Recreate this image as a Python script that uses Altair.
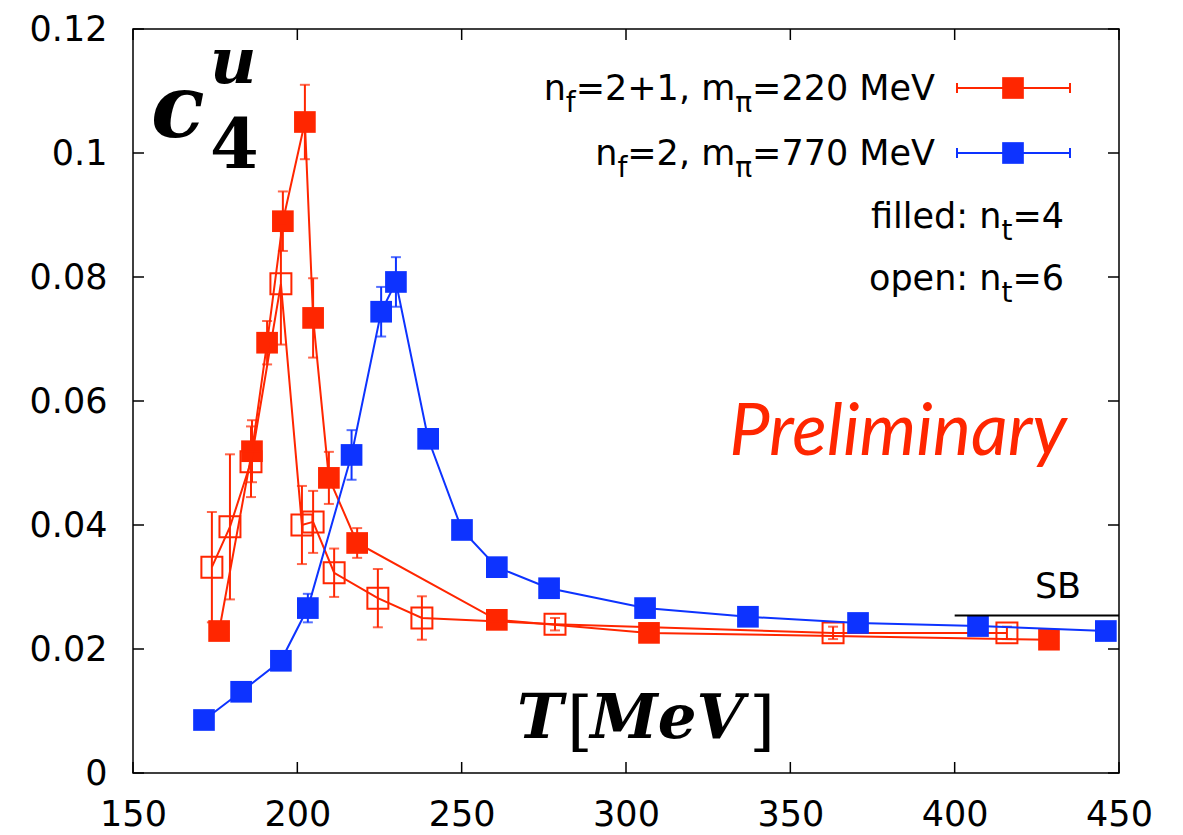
import altair as alt
import pandas as pd

RED = "#ff2600"
BLUE = "#0d33ff"

# ---------------- data ----------------
# n_f=2+1, m_pi=220 MeV, filled symbols: n_t=4
red4_T = [176.2, 186.2, 190.8, 195.6, 202.3, 204.8, 209.6, 218.2, 260.7, 307.0, 428.7]
red4_v = [0.0229, 0.0519, 0.0694, 0.0890, 0.1050, 0.0734, 0.0476, 0.0371, 0.0247, 0.0226, 0.0215]
red4_e = [0.0008, 0.0050, 0.0035, 0.0048, 0.0060, 0.0064, 0.0042, 0.0024, 0.0005, 0.0005, 0.0005]

# n_f=2+1, m_pi=220 MeV, open symbols: n_t=6
red6_T = [174.0, 179.5, 185.9, 195.0, 201.4, 204.8, 211.2, 224.5, 237.9, 278.4, 363.0, 415.9]
red6_v = [0.0332, 0.0397, 0.0502, 0.0789, 0.0400, 0.0405, 0.0323, 0.0282, 0.0250, 0.0240, 0.0226, 0.0226]
red6_e = [0.0089, 0.0117, 0.0057, 0.0098, 0.0063, 0.0050, 0.0039, 0.0047, 0.0035, 0.0010, 0.0010, 0.0010]

# n_f=2, m_pi=770 MeV, filled symbols: n_t=4
blue_T = [171.6, 182.9, 195.0, 203.2, 216.5, 225.5, 230.0, 239.8, 250.1, 260.7, 276.6, 305.8,
          337.1, 370.6, 407.1, 446.0]
blue_v = [0.00855, 0.0131, 0.0181, 0.0266, 0.0513, 0.0744, 0.0792, 0.0539, 0.0392, 0.0332, 0.0298,
          0.0266, 0.0252, 0.0242, 0.0237, 0.0229]
blue_e = [0.0005, 0.0006, 0.0007, 0.0023, 0.0040, 0.0040, 0.0040, 0.0015, 0.0008, 0.0006, 0.0005,
          0.0005, 0.0005, 0.0005, 0.0005, 0.0005]

# Stefan-Boltzmann limit
sb_T = [400, 450]
sb_v = [0.0254, 0.0254]

x_ticks = [150, 200, 250, 300, 350, 400, 450]
y_ticks = [0, 0.02, 0.04, 0.06, 0.08, 0.1, 0.12]

legend_lines = [
    [("n", False), ("f", True), ("=2+1, m", False), ("\u03c0", True), ("=220 MeV", False)],
    [("n", False), ("f", True), ("=2, m", False), ("\u03c0", True), ("=770 MeV", False)],
    [("filled: n", False), ("t", True), ("=4", False)],
    [("open: n", False), ("t", True), ("=6", False)],
]

# ---------------- layout ----------------
W, H = 986, 744
TL = 11  # inward tick length
SANS = "DejaVu Sans"
FS = 35
FS_SUB = 28

xs = alt.Scale(domain=[150, 450], nice=False, zero=False)
ys = alt.Scale(domain=[0, 0.12], nice=False, zero=False)
xaxis = alt.Axis(values=x_ticks, title=None, labelPadding=24, labelFlush=False)
yaxis = alt.Axis(values=y_ticks, title=None, labelPadding=26, labelFlush=False,
                 labelExpr="datum.value == 0 ? '0' : format(datum.value, '.2~f')")


def X(f="T"):
    return alt.X(f"{f}:Q", scale=xs, axis=xaxis)


def Y(f="v"):
    return alt.Y(f"{f}:Q", scale=ys, axis=yaxis)


def series(T, v, e, color, filled):
    df = pd.DataFrame({"T": T, "v": v,
                       "lo": [a - b for a, b in zip(v, e)],
                       "hi": [a + b for a, b in zip(v, e)]})
    base = alt.Chart(df)
    line = base.mark_line(color=color, strokeWidth=2).encode(x=X(), y=Y())
    bars = base.mark_rule(color=color, strokeWidth=2).encode(x=X(), y=Y("lo"), y2="hi:Q")
    cap_lo = base.mark_tick(color=color, orient="horizontal", size=10, thickness=2).encode(x=X(), y=Y("lo"))
    cap_hi = base.mark_tick(color=color, orient="horizontal", size=10, thickness=2).encode(x=X(), y=Y("hi"))
    if filled:
        pts = base.mark_point(shape="square", filled=True, color=color, size=470, opacity=1).encode(x=X(), y=Y())
    else:
        pts = base.mark_point(shape="square", filled=False, color=color, size=440, strokeWidth=2,
                              opacity=1).encode(x=X(), y=Y())
    return [line, bars, cap_lo, cap_hi, pts]


layers = []
layers += series(red4_T, red4_v, red4_e, RED, True)
layers += series(red6_T, red6_v, red6_e, RED, False)
layers += series(blue_T, blue_v, blue_e, BLUE, True)

# SB line
sb_df = pd.DataFrame({"T": sb_T, "v": sb_v})
layers.append(alt.Chart(sb_df).mark_line(color="black", strokeWidth=2).encode(x=X(), y=Y()))

# inward ticks on all four sides
xt_df = pd.DataFrame({"T": x_ticks})
yt_df = pd.DataFrame({"v": y_ticks})
layers.append(alt.Chart(xt_df).mark_rule(color="black", strokeWidth=1.5).encode(
    x=X(), y=alt.value(H), y2=alt.value(H - TL)))
layers.append(alt.Chart(xt_df).mark_rule(color="black", strokeWidth=1.5).encode(
    x=X(), y=alt.value(0), y2=alt.value(TL)))
layers.append(alt.Chart(yt_df).mark_rule(color="black", strokeWidth=1.5).encode(
    y=Y(), x=alt.value(0), x2=alt.value(TL)))
layers.append(alt.Chart(yt_df).mark_rule(color="black", strokeWidth=1.5).encode(
    y=Y(), x=alt.value(W - TL), x2=alt.value(W)))

one = pd.DataFrame({"a": [0]})


def text(s, x, y, **kw):
    return alt.Chart(pd.DataFrame({"t": [s]})).mark_text(baseline="alphabetic", **kw).encode(
        x=alt.value(x), y=alt.value(y), text="t:N")


# legend text (right-aligned pieces, with subscripts)
WID = {"n": .634, "f": .352, "=": .838, "2": .636, "+": .838, "1": .636, ",": .318, " ": .318,
       "m": .974, "\u03c0": .602, "0": .636, "7": .636, "M": .863, "e": .615, "V": .684,
       "i": .278, "l": .278, "d": .635, ":": .337, "t": .392, "4": .636, "6": .636, "o": .612,
       "p": .635}


def width(s, fs):
    return sum(WID.get(c, .6) for c in s) * fs


leg_right = [802, 802, 931, 931]
leg_base = [71, 136, 199, 261]
for pieces, xr, yb in zip(legend_lines, leg_right, leg_base):
    x = xr
    for s, sub in reversed(pieces):
        fs = FS_SUB if sub else FS
        layers.append(text(s, x, yb + (12 if sub else 0), align="right", font=SANS, fontSize=fs,
                           color="black"))
        x -= width(s, fs)

# legend symbols
for col, yy in [(RED, 59), (BLUE, 124)]:
    layers.append(alt.Chart(one).mark_rule(color=col, strokeWidth=2).encode(
        x=alt.value(824), x2=alt.value(937), y=alt.value(yy)))
    for xx in (824, 937):
        layers.append(alt.Chart(one).mark_rule(color=col, strokeWidth=2).encode(
            x=alt.value(xx), y=alt.value(yy - 5), y2=alt.value(yy + 5)))
    layers.append(alt.Chart(one).mark_point(shape="square", filled=True, color=col, size=470,
                                            opacity=1).encode(x=alt.value(880), y=alt.value(yy)))

# annotations
SERIF = "DejaVu Serif"
layers.append(text("c", 18, 108, align="left", font=SERIF, fontSize=88, fontWeight="bold",
                   fontStyle="italic", color="black"))
layers.append(text("u", 77, 54, align="left", font=SERIF, fontSize=64, fontWeight="bold",
                   fontStyle="italic", color="black"))
layers.append(text("4", 77, 139, align="left", font=SERIF, fontSize=70, fontWeight="bold",
                   color="black"))
# axis label T[MeV] drawn inside the plot
layers.append(text("T", 384, 709, align="left", font=SERIF, fontSize=62, fontWeight="bold",
                   fontStyle="italic", color="black"))
layers.append(text("[", 434, 714, align="left", font=SERIF, fontSize=66, color="black"))
layers.append(text("MeV", 534, 709, align="center", font=SERIF, fontSize=61, fontWeight="bold",
                   fontStyle="italic", color="black"))
layers.append(text("]", 642, 714, align="right", font=SERIF, fontSize=66, color="black"))
layers.append(text("Preliminary", 765, 426, align="center", font="Lato", fontSize=72,
                   fontStyle="italic", color=RED))
layers.append(text("SB", 925, 569, align="center", font=SANS, fontSize=FS, color="black"))

chart = alt.layer(*layers).properties(
    width=W, height=H,
    autosize=alt.AutoSizeParams(type="none"),
    padding={"left": 125, "top": 21, "right": 50, "bottom": 62},
).configure_view(stroke="black", strokeWidth=1.5).configure_axis(
    grid=False, domain=False, ticks=False, labelFont=SANS, labelFontSize=FS, labelColor="black"
)

chart.save("out.html", embed_options={"renderer": "svg", "actions": False})
